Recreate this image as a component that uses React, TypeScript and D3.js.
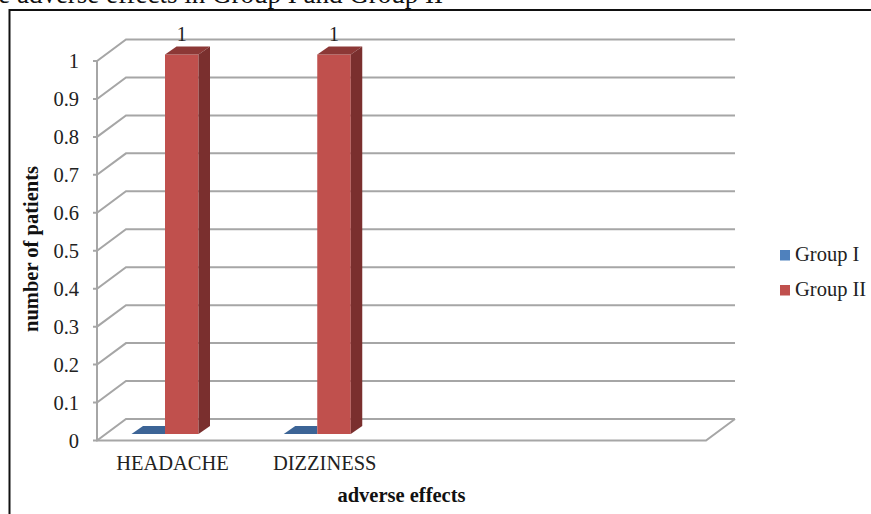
import React from "react";
import * as d3 from "d3";

const categories = ["HEADACHE", "DIZZINESS", "", ""];
const groupI = [0, 0];
const groupII = [1, 1];
const yTicks = [0, 0.1, 0.2, 0.3, 0.4, 0.5, 0.6, 0.7, 0.8, 0.9, 1];
const seriesNames = ["Group I", "Group II"];
const FONT = '"Liberation Serif", serif';
const GRID = "#a6a6a6";

export default function App() {
  const y = d3.scaleLinear().domain([0, 1]).range([440.5, 61]);
  const DX = 29, DY = -21.5;
  const x0 = 97, x1 = 706;
  const band = d3.scaleBand().domain(categories.map((c, i) => i + c)).range([x0, x1]);
  const barW = 33.5, bdx = 11.5, bdy = -8;
  const lift = -6.5;
  const barX = (i: number) => (band(i + categories[i]) as number) + 68;
  return (
    <svg width={871} height={514} style={{ position: "absolute", left: 0, top: 0, background: "#fff" }} fontFamily={FONT}>
      <text x={443} y={3} fontSize={27} textAnchor="end" fill="#111">The adverse effects in Group I and Group II</text>
      <path d="M9.5,514V10H871" fill="none" stroke="#111" strokeWidth={2} />
      {yTicks.map((t) => (
        <g key={t}>
          <path d={`M${x0 - 4},${y(t)}H${x0}L${x0 + DX},${y(t) + DY}H${x1 + DX - 0}`} fill="none" stroke={GRID} strokeWidth={2} />
          <text x={79} y={y(t) + 7} fontSize={20.5} textAnchor="end" fill="#222">{t}</text>
        </g>
      ))}
      <path d={`M${x0},${y(1)}V${y(0)}H${x1}L${x1 + DX},${y(0) + DY}`} fill="none" stroke={GRID} strokeWidth={2} />
      {groupI.map((v, i) => {
        const left = barX(i) - barW;
        const base = y(v) + lift;
        return <path key={i} d={`M${left},${base}l${bdx},${bdy}h${barW - bdx}v${-bdy}z`} fill="#3c6496" />;
      })}
      {groupII.map((v, i) => {
        const left = barX(i);
        const top = y(v) + lift;
        const h = y(0) - y(v);
        return (
          <g key={i}>
            <rect x={left} y={top} width={barW} height={h} fill="#c0504d" />
            <path d={`M${left},${top}l${bdx},${bdy}h${barW}l${-bdx},${-bdy}z`} fill="#8c3836" />
            <path d={`M${left + barW},${top}l${bdx},${bdy}v${h}l${-bdx},${-bdy}z`} fill="#7a2f2e" />
            <text x={left + barW / 2} y={top - 14} fontSize={20} textAnchor="middle" fill="#222">{v}</text>
          </g>
        );
      })}
      {categories.slice(0, 2).map((c, i) => (
        <text key={c} x={i === 0 ? 172.5 : 324.7} y={470} fontSize={20.5} textAnchor="middle" fill="#222">{c}</text>
      ))}
      <text x={401.5} y={501.5} fontSize={20.5} fontWeight="bold" textAnchor="middle" fill="#111">adverse effects</text>
      <text transform="translate(38,249) rotate(-90)" fontSize={20.5} fontWeight="bold" textAnchor="middle" fill="#111">number of patients</text>
      {seriesNames.map((s, i) => (
        <g key={s}>
          <rect x={780} y={250 + i * 35} width={10} height={10.5} fill={i === 0 ? "#4f81bd" : "#c0504d"} />
          <text x={795} y={261 + i * 35} fontSize={20.5} fill="#222">{s}</text>
        </g>
      ))}
    </svg>
  );
}
